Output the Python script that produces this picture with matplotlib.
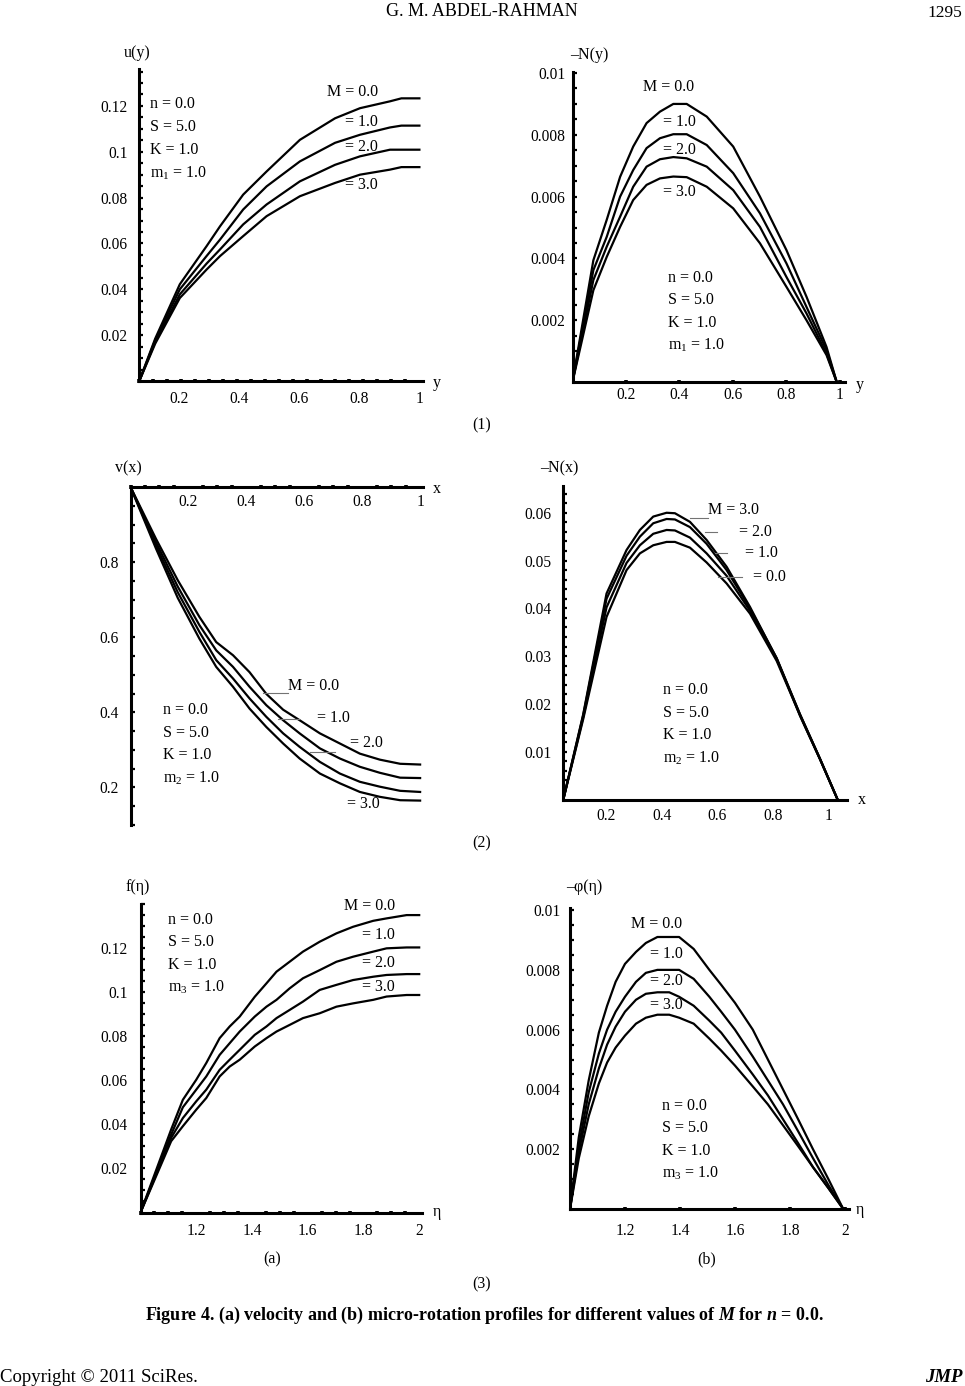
#
# Figure 4: velocity and micro-rotation profiles for different M (n = 0.0)
#

import matplotlib
matplotlib.use("Agg")
import matplotlib.pyplot as plt
import numpy as np
from matplotlib.ticker import FixedLocator, FuncFormatter
from matplotlib.transforms import Affine2D
from matplotlib.lines import Line2D

plt.rcParams['font.family'] = ['Liberation Serif', 'DejaVu Serif']
plt.rcParams['mathtext.fontset'] = 'custom'
plt.rcParams['mathtext.rm'] = 'Liberation Serif'
plt.rcParams['mathtext.it'] = 'Liberation Serif:italic:bold'
plt.rcParams['font.size'] = 11.5

# 1. Input
M_values = ["0.0", "1.0", "2.0", "3.0"]

# (1) left: u(y)
u_y = [0.067, 0.12, 0.202, 0.291, 0.336, 0.413, 0.491, 0.602, 0.719, 0.802, 0.902, 0.94, 1.0]
u_M0 = [0, 0.0185, 0.0422, 0.0588, 0.0675, 0.0813, 0.0914, 0.1052, 0.1146, 0.119, 0.122, 0.1233, 0.1233]
u_M1 = [0, 0.0178, 0.040, 0.0545, 0.0617, 0.0748, 0.0849, 0.0958, 0.1039, 0.1074, 0.1106, 0.1114, 0.1114]
u_M2 = [0, 0.017, 0.0378, 0.0512, 0.0574, 0.0683, 0.077, 0.0871, 0.0943, 0.098, 0.1009, 0.1009, 0.1009]
u_M3 = [0, 0.0163, 0.0362, 0.0486, 0.0545, 0.0632, 0.0719, 0.0806, 0.0864, 0.09, 0.0922, 0.0933, 0.0933]

# (1) right: -N(y)
Ny_y = [0, 0.078, 0.128, 0.178, 0.227, 0.277, 0.327, 0.377, 0.427, 0.502, 0.601, 0.701, 0.80, 0.875, 0.95, 0.988]
Ny_M0 = [0, 0.00394, 0.00525, 0.00664, 0.00762, 0.00838, 0.00875, 0.0090, 0.0090, 0.00859, 0.00762, 0.0060, 0.00427, 0.00276, 0.00113, 0]
Ny_M1 = [0, 0.00362, 0.0047, 0.0060, 0.00686, 0.00757, 0.00789, 0.00802, 0.00802, 0.00767, 0.00676, 0.00546, 0.00384, 0.00243, 0.00103, 0]
Ny_M2 = [0, 0.0033, 0.00438, 0.00535, 0.00632, 0.00697, 0.00721, 0.00728, 0.00724, 0.00697, 0.00621, 0.00502, 0.0034, 0.00222, 0.00092, 0]
Ny_M3 = [0, 0.00297, 0.00405, 0.00502, 0.00589, 0.00638, 0.00659, 0.00665, 0.00663, 0.00632, 0.00562, 0.00449, 0.00308, 0.0020, 0.00087, 0]

# (2) left: v(x)
v_x = [0, 0.088, 0.163, 0.238, 0.296, 0.354, 0.411, 0.469, 0.527, 0.584, 0.654, 0.723, 0.792, 0.861, 0.931, 1.0]
v_M0 = [1, 0.862, 0.752, 0.654, 0.587, 0.552, 0.507, 0.449, 0.407, 0.379, 0.344, 0.317, 0.290, 0.274, 0.263, 0.261]
v_M1 = [1, 0.853, 0.735, 0.632, 0.565, 0.521, 0.468, 0.419, 0.379, 0.344, 0.304, 0.277, 0.255, 0.239, 0.226, 0.225]
v_M2 = [1, 0.844, 0.720, 0.614, 0.539, 0.490, 0.437, 0.388, 0.344, 0.308, 0.268, 0.237, 0.215, 0.202, 0.191, 0.188]
v_M3 = [1, 0.836, 0.705, 0.596, 0.521, 0.468, 0.410, 0.361, 0.317, 0.277, 0.237, 0.211, 0.188, 0.175, 0.166, 0.165]

# (2) right: -N(x)
Nx_x = [0.0465, 0.118, 0.202, 0.274, 0.322, 0.370, 0.418, 0.448, 0.502, 0.562, 0.634, 0.718, 0.814, 0.898, 0.970, 1.033]
Nx_M0 = [0, 0.0168, 0.0382, 0.0480, 0.0515, 0.0532, 0.0539, 0.0539, 0.0527, 0.0496, 0.0452, 0.0389, 0.0290, 0.0176, 0.0084, 0]
Nx_M1 = [0, 0.0172, 0.0402, 0.0495, 0.0532, 0.0556, 0.0564, 0.0563, 0.0548, 0.0515, 0.0468, 0.0395, 0.0294, 0.0178, 0.0085, 0]
Nx_M2 = [0, 0.0176, 0.0420, 0.0510, 0.0550, 0.0578, 0.0587, 0.0586, 0.0570, 0.0535, 0.0480, 0.0400, 0.0296, 0.0178, 0.0085, 0]
Nx_M3 = [0, 0.0178, 0.0431, 0.0522, 0.0564, 0.0592, 0.0600, 0.0599, 0.0581, 0.0543, 0.0487, 0.0403, 0.0295, 0.0175, 0.0084, 0]

# (3a): f(eta)
f_eta = [1.0, 1.110, 1.152, 1.200, 1.236, 1.284, 1.320, 1.356, 1.410, 1.452, 1.488, 1.535, 1.583, 1.643, 1.703, 1.763, 1.835, 1.883, 1.955, 2.0]
f_M0 = [0, 0.0377, 0.0512, 0.0603, 0.0679, 0.0792, 0.0845, 0.0890, 0.0980, 0.1041, 0.1094, 0.1139, 0.1185, 0.1230, 0.1268, 0.1298, 0.1325, 0.1336, 0.1351, 0.1351]
f_M1 = [0, 0.0354, 0.0478, 0.0558, 0.0618, 0.0716, 0.0769, 0.0822, 0.0890, 0.0935, 0.0966, 0.1018, 0.1064, 0.1101, 0.1139, 0.1162, 0.1185, 0.1200, 0.1204, 0.1204]
f_M2 = [0, 0.0339, 0.0429, 0.0505, 0.0558, 0.0648, 0.0694, 0.0739, 0.0807, 0.0845, 0.0883, 0.0920, 0.0958, 0.1011, 0.1034, 0.1056, 0.1071, 0.1079, 0.1083, 0.1083]
f_M3 = [0, 0.0324, 0.0392, 0.0467, 0.0520, 0.0618, 0.0663, 0.0694, 0.0754, 0.0792, 0.0822, 0.0852, 0.0883, 0.0905, 0.0935, 0.0950, 0.0966, 0.0981, 0.0988, 0.0988]

# (3b): -phi(eta)
phi_eta = [1.0, 1.032, 1.068, 1.105, 1.135, 1.166, 1.2, 1.24, 1.276, 1.318, 1.361, 1.397, 1.45, 1.507, 1.55, 1.6, 1.665, 1.72, 1.775, 1.83, 1.884, 1.94, 1.994]
phi_M0 = [0, 0.0024, 0.0043, 0.0059, 0.0068, 0.0076, 0.0082, 0.0086, 0.0089, 0.0091, 0.0091, 0.0091, 0.0087, 0.0080, 0.0075, 0.0069, 0.0060, 0.0050, 0.0040, 0.0030, 0.0020, 0.0010, 0]
phi_M1 = [0, 0.0021, 0.0039, 0.0052, 0.0060, 0.0066, 0.0071, 0.0076, 0.0079, 0.0080, 0.0080, 0.0080, 0.0077, 0.0071, 0.0066, 0.0060, 0.0051, 0.0043, 0.0035, 0.0026, 0.0017, 0.0008, 0]
phi_M2 = [0, 0.0019, 0.0035, 0.0047, 0.0055, 0.0061, 0.0066, 0.0070, 0.0072, 0.00725, 0.00725, 0.0071, 0.0068, 0.0063, 0.0059, 0.0053, 0.0045, 0.0038, 0.0030, 0.0022, 0.0014, 0.0007, 0]
phi_M3 = [0, 0.0017, 0.0031, 0.0042, 0.0049, 0.0054, 0.0058, 0.0062, 0.0064, 0.0065, 0.0065, 0.0064, 0.0062, 0.0057, 0.0053, 0.0048, 0.0041, 0.0035, 0.0028, 0.0021, 0.0014, 0.0007, 0]

# 2. Process
W, H = 965, 1386
fig = plt.figure(figsize=(W / 100, H / 100), dpi=100)
# pixel coordinates measured from the top-left corner
pix = Affine2D().scale(1.0 / W, -1.0 / H).translate(0, 1) + fig.transFigure


def panel(left, top, right, bottom):
    return fig.add_axes([left / W, 1 - bottom / H, (right - left) / W, (bottom - top) / H])


def style(ax, xlim, ylim, xmaj, ymaj, ymin, xdash=None, xsq=False, xpad=6, ypad=8, xaxis_at=None):
    ax.set_xlim(xlim)
    ax.set_ylim(ylim)
    ax.patch.set_alpha(0)
    ax.spines['top'].set_visible(False)
    ax.spines['right'].set_visible(False)
    ax.spines['left'].set_linewidth(2.2)
    ax.spines['bottom'].set_linewidth(2.2)
    if xaxis_at is not None:
        ax.spines['bottom'].set_position(('data', xaxis_at))
    fmt = FuncFormatter(lambda v, p: '{:g}'.format(round(v, 6)))
    ax.xaxis.set_major_locator(FixedLocator(xmaj))
    ax.yaxis.set_major_locator(FixedLocator(ymaj))
    ax.xaxis.set_major_formatter(fmt)
    ax.yaxis.set_major_formatter(fmt)
    ax.yaxis.set_minor_locator(FixedLocator(ymin))
    ax.tick_params(axis='y', which='both', direction='in', length=3.2, width=1.6, pad=ypad, labelsize=11.2)
    if xsq:
        ax.tick_params(axis='x', which='major', direction='inout', length=3.5, width=2.6, pad=xpad, labelsize=11.2)
    else:
        ax.tick_params(axis='x', which='major', length=0, pad=xpad, labelsize=11.2)
    if xdash is not None:
        ax.xaxis.set_minor_locator(FixedLocator(xdash))
        ax.tick_params(axis='x', which='minor', direction='inout', length=3.5, width=2.6)
    else:
        ax.xaxis.set_minor_locator(FixedLocator([]))


def txt(x, y, s, **kw):
    fig.text(x, y, s, transform=pix, va='center', **kw)


def leader(x1, x2, y):
    fig.add_artist(Line2D([x1, x2], [y, y], transform=pix, color='0.45', lw=0.8))


def params(x, y, sub, gap=23):
    for i, s in enumerate(["n = 0.0", "S = 5.0", "K = 1.0", "m$_" + sub + "$ = 1.0"]):
        txt(x, y + i * gap, s, ha='left')


lw = 1.6

# (1) left
ax1 = panel(139.3, 69, 423, 381)
for vals in [u_M0, u_M1, u_M2, u_M3]:
    ax1.plot(u_y, vals, color='black', lw=lw)
style(ax1, (0.067, 1.012), (0, 0.1361), [0.2, 0.4, 0.6, 0.8, 1.0],
      [0.02, 0.04, 0.06, 0.08, 0.10, 0.12], np.arange(0.005, 0.136, 0.005),
      xdash=np.linspace(0.067, 1.0, 21), xpad=7.5, ypad=8.4)
txt(137, 53, "u(y)", ha='center')
txt(437, 383, "y", ha='center')
params(150, 104, "1")
txt(327, 92, "M = " + M_values[0], ha='left')
for i, yy in enumerate([122, 147, 185]):
    txt(345, yy, "= " + M_values[i + 1], ha='left')

# (1) right
ax2 = panel(572.5, 71.5, 845, 382)
for vals in [Ny_M0, Ny_M1, Ny_M2, Ny_M3]:
    ax2.plot(Ny_y, vals, color='black', lw=lw)
style(ax2, (0, 1.019), (0, 0.01005), [0.2, 0.4, 0.6, 0.8, 1.0],
      [0.002, 0.004, 0.006, 0.008, 0.01], np.arange(0.0005, 0.0101, 0.0005),
      xsq=True, xpad=2.0, ypad=5.2)
txt(589, 55, "\u2013N(y)", ha='center')
txt(860, 385, "y", ha='center')
params(668, 278, "1", gap=22.5)
txt(643, 87, "M = " + M_values[0], ha='left')
for i, yy in enumerate([122, 150, 192]):
    txt(663, yy, "= " + M_values[i + 1], ha='left')

# (2) left
ax3 = panel(130.5, 487, 423.3, 825)
for vals in [v_M0, v_M1, v_M2, v_M3]:
    ax3.plot(v_x, vals, color='black', lw=lw)
style(ax3, (0, 1.011), (0.1, 1.0), [0.2, 0.4, 0.6, 0.8, 1.0],
      [0.2, 0.4, 0.6, 0.8], np.arange(0.1, 0.99, 0.05),
      xdash=np.linspace(0, 1.0, 21), xpad=5.3, ypad=8.1, xaxis_at=1.0)
txt(128, 468, "v(x)", ha='center')
txt(437, 489, "x", ha='center')
params(163, 710, "2", gap=22.7)
txt(288, 686, "M = " + M_values[0], ha='left')
leader(263, 288, 692.7)
txt(317, 718, "= " + M_values[1], ha='left')
leader(278, 299, 719)
txt(350, 743, "= " + M_values[2], ha='left')
leader(310, 335, 751.7)
txt(347, 804, "= " + M_values[3], ha='left')

# (2) right
ax4 = panel(563.3, 486, 847.3, 799.5)
for vals in [Nx_M0, Nx_M1, Nx_M2, Nx_M3]:
    ax4.plot(Nx_x, vals, color='black', lw=lw)
style(ax4, (0.0465, 1.068), (0, 0.0656), [0.2, 0.4, 0.6, 0.8, 1.0],
      [0.01, 0.02, 0.03, 0.04, 0.05, 0.06], np.arange(0.002, 0.0656, 0.002),
      xpad=6, ypad=8.2)
txt(559, 468, "\u2013N(x)", ha='center')
txt(862, 800, "x", ha='center')
params(663, 690, "2", gap=22.7)
txt(708, 510, "M = " + M_values[3], ha='left')
leader(690, 708, 517.7)
txt(739, 532, "= " + M_values[2], ha='left')
leader(705, 717, 532)
txt(745, 553, "= " + M_values[1], ha='left')
leader(715, 727, 553)
txt(753, 577, "= " + M_values[0], ha='left')
leader(718, 742, 577)

# (3a)
ax5 = panel(140.5, 904.3, 421.7, 1212.5)
for vals in [f_M0, f_M1, f_M2, f_M3]:
    ax5.plot(f_eta, vals, color='black', lw=lw)
style(ax5, (1.0, 2.009), (0, 0.14), [1.2, 1.4, 1.6, 1.8, 2.0],
      [0.02, 0.04, 0.06, 0.08, 0.10, 0.12], np.arange(0.005, 0.1401, 0.005),
      xdash=np.linspace(1.0, 2.0, 21), xpad=7.8, ypad=9.2)
txt(138, 887, "f(\u03b7)", ha='center')
txt(437, 1212, "\u03b7", ha='center')
params(168, 920, "3", gap=22.5)
txt(344, 906, "M = " + M_values[0], ha='left')
for i, yy in enumerate([935, 963, 987]):
    txt(362, yy, "= " + M_values[i + 1], ha='left')

# (3b)
ax6 = panel(570, 907.7, 849, 1209)
for vals in [phi_M0, phi_M1, phi_M2, phi_M3]:
    ax6.plot(phi_eta, vals, color='black', lw=lw)
style(ax6, (1.0, 2.015), (0, 0.01008), [1.2, 1.4, 1.6, 1.8, 2.0],
      [0.002, 0.004, 0.006, 0.008, 0.01], np.arange(0.0005, 0.0101, 0.0005),
      xsq=True, xpad=8, ypad=7.0)
txt(584, 887, "\u2013\u03c6(\u03b7)", ha='center')
txt(860, 1210, "\u03b7", ha='center')
params(662, 1106, "3", gap=22.5)
txt(631, 924, "M = " + M_values[0], ha='left')
for i, yy in enumerate([954, 981, 1005]):
    txt(650, yy, "= " + M_values[i + 1], ha='left')

# 3. Output
txt(482, 12, "G. M. ABDEL-RAHMAN", ha='center', fontsize=13)
txt(962, 13, "1295", ha='right', fontsize=12.5)
txt(482, 425, "(1)", ha='center')
txt(482, 843, "(2)", ha='center')
txt(272, 1259, "(a)", ha='center')
txt(707, 1259, "(b)", ha='center')
txt(482, 1284, "(3)", ha='center')
txt(484, 1315, "Figure 4. (a) velocity and (b) micro-rotation profiles for different values of $M$ for $n$ = 0.0.",
    ha='center', fontweight='bold', fontsize=13)
txt(0, 1377, "Copyright \u00a9 2011 SciRes.", ha='left', fontsize=13.5)
txt(963, 1377, "JMP", ha='right', fontweight='bold', fontstyle='italic', fontsize=13.5)

plt.savefig("out.png", dpi=100)
